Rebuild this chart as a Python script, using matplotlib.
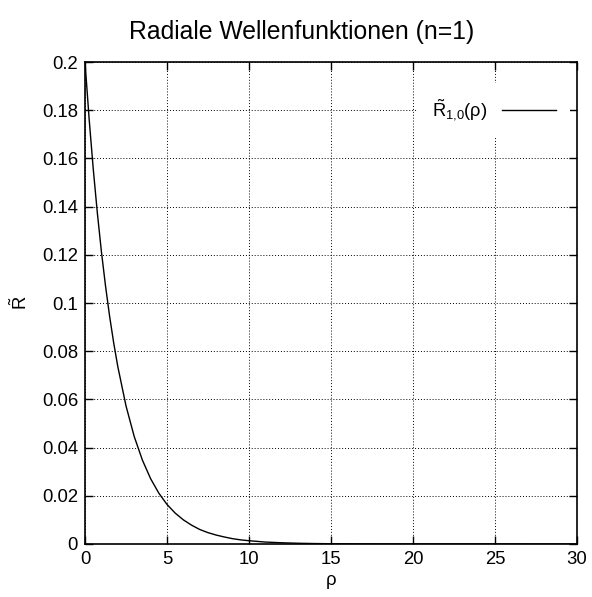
import matplotlib.pyplot as plt

plt.rcParams['font.family'] = ['Liberation Sans', 'DejaVu Sans']
plt.rcParams['mathtext.fontset'] = 'custom'
plt.rcParams['mathtext.rm'] = 'Liberation Sans'
plt.rcParams['mathtext.it'] = 'Liberation Sans'

# values
rho = [0, 0.25, 0.5, 0.75, 1, 1.25, 1.5, 1.75, 2, 2.5, 3, 3.5, 4, 4.5, 5,
       5.5, 6, 6.5, 7, 7.5, 8, 8.5, 9, 9.5, 10, 11, 12, 13, 14, 15, 17, 20, 30]
R10 = [0.2, 0.1765, 0.1558, 0.1375, 0.1213, 0.1071, 0.0945, 0.0834, 0.0736,
       0.0573, 0.0446, 0.0348, 0.0271, 0.0211, 0.0164, 0.0128, 0.0100, 0.0078,
       0.0060, 0.0047, 0.0037, 0.0029, 0.0022, 0.0017, 0.00135, 0.0008,
       0.0005, 0.0003, 0.00018, 0.00011, 0.00004, 0.00001, 0.0]

xticks = [0, 5, 10, 15, 20, 25, 30]
yticks = [0, 0.02, 0.04, 0.06, 0.08, 0.1, 0.12, 0.14, 0.16, 0.18, 0.2]
ytick_labels = ['0', '0.02', '0.04', '0.06', '0.08', '0.1', '0.12', '0.14',
                '0.16', '0.18', '0.2']

fig = plt.figure(figsize=(5.92, 5.97), dpi=100)
ax = fig.add_axes([0.1436, 0.0888, 0.8311, 0.8073])

ax.plot(rho, R10, color='black', lw=1.0, label=r'$\tilde{\mathrm{R}}_{1{,}0}(\rho)$')

ax.set_xlim(0, 30)
ax.set_ylim(0, 0.2)
ax.set_xticks(xticks)
ax.set_xticklabels([str(t) for t in xticks])
ax.set_yticks(yticks)
ax.set_yticklabels(ytick_labels)
ax.tick_params(direction='in', top=True, right=True, length=6, width=1,
               labelsize=13.3, pad=5)
ax.grid(True, color='black', linestyle=(0, (1, 2)), linewidth=0.7)
ax.set_axisbelow(False)
for s in ax.spines.values():
    s.set_linewidth(1.2)

fig.text(0.51, 0.946, 'Radiale Wellenfunktionen (n=1)', fontsize=17.8,
         ha='center', va='center')
ax.set_xlabel(r'$\rho$', fontsize=13.3, labelpad=4)
ax.set_ylabel(r'$\tilde{\mathrm{R}}$', fontsize=13.3, labelpad=8)

leg = ax.legend(loc='upper right', markerfirst=False, fontsize=13.2,
                frameon=True, framealpha=1, edgecolor='none', fancybox=False,
                handlelength=2.9, borderpad=0.8, bbox_to_anchor=(1.005, 0.975))
leg.set_zorder(5)

fig.savefig('out.png', dpi=100)
